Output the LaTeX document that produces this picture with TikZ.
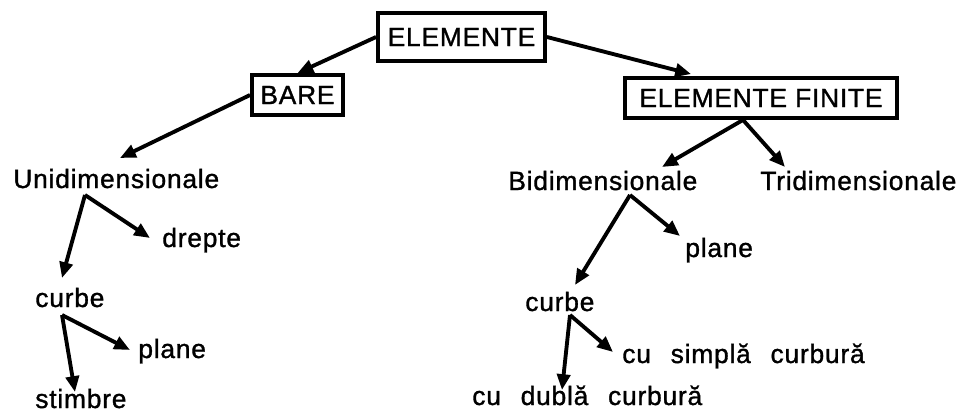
\documentclass[tikz,border=0pt]{standalone}
\usepackage{fontspec}
\setmainfont{Liberation Sans}[LetterSpace=3,FakeBold=1.2]
\usepackage{tikz}
\usetikzlibrary{arrows.meta,calc}

\begin{document}
\begin{tikzpicture}[x=0.02cm,y=-0.02cm,
    boxnode/.style={draw, line width=2.2pt, inner sep=0pt, font=\fontsize{15}{17}\selectfont},
    txt/.style={anchor=base west, inner sep=0pt, font=\fontsize{15}{17}\selectfont},
    arr/.style={line width=2.2pt, -{Triangle[length=9pt,width=7.5pt]}}]
            \useasboundingbox (0,0) rectangle (965,416);
            % top level
            \node[boxnode, minimum width=3.34cm, minimum height=0.96cm] (el) at (461.5,37) {ELEMENTE};
            \node[boxnode, minimum width=1.82cm, minimum height=0.8cm] (bare) at (297.5,95) {BARE};
            \node[boxnode, minimum width=5.44cm, minimum height=0.8cm] (ef) at (761,98) {ELEMENTE FINITE};
            \draw[arr] (el.west) -- (bare.north);
            \draw[arr] (el.east) -- ($(ef.north west)+(68,-2)$);
            % bare
            \node[txt] (uni) at (13,188) {Unidimensionale};
            \node[txt] (drepte) at (162,247) {drepte};
            \node[txt] (curbeL) at (35,307) {curbe};
            \node[txt] (planeL) at (138,358) {plane};
            \node[txt] (stimbre) at (35,408) {stimbre};
            \draw[arr] (bare.west) -- ($(uni.base west)+(107,-30)$);
            \coordinate (uj) at ($(uni.base west)+(72,7)$);
            \draw[arr] (uj) -- ($(curbeL.base west)+(27,-29)$);
            \draw[arr] (uj) -- ($(drepte.base west)+(-12,-9)$);
            \coordinate (cj) at ($(curbeL.base west)+(27,8)$);
            \draw[arr] (cj) -- ($(stimbre.base west)+(40,-16)$);
            \draw[arr] (cj) -- ($(planeL.base west)+(-8,-8)$);
            % elemente finite
            \node[txt] (bidim) at (508,190) {Bidimensionale};
            \node[txt] (tridim) at (760,190) {Tridimensionale};
            \node[txt] (planeR) at (685,257) {plane};
            \node[txt] (curbeR) at (525,311) {curbe};
            \node[txt] (simpla) at (622,363) {cu\hspace{0.75em}simplă\hspace{0.75em}curbură};
            \node[txt] (dubla) at (472,405) {cu\hspace{0.75em}dublă\hspace{0.75em}curbură};
            \coordinate (ej) at ($(ef.south)+(-18,0)$);
            \draw[arr] (ej) -- ($(bidim.base west)+(154,-23)$);
            \draw[arr] (ej) -- ($(tridim.base west)+(25,-23)$);
            \coordinate (bj) at ($(bidim.base west)+(122,5)$);
            \draw[arr] (bj) -- ($(curbeR.base west)+(50,-26)$);
            \draw[arr] (bj) -- ($(planeR.base west)+(-5,-21)$);
            \coordinate (rj) at ($(curbeR.base west)+(45,4)$);
            \draw[arr] (rj) -- ($(dubla.base west)+(90,-15)$);
            \draw[arr] (rj) -- ($(simpla.base west)+(-9,-11)$);
        \end{tikzpicture}
\end{document}
